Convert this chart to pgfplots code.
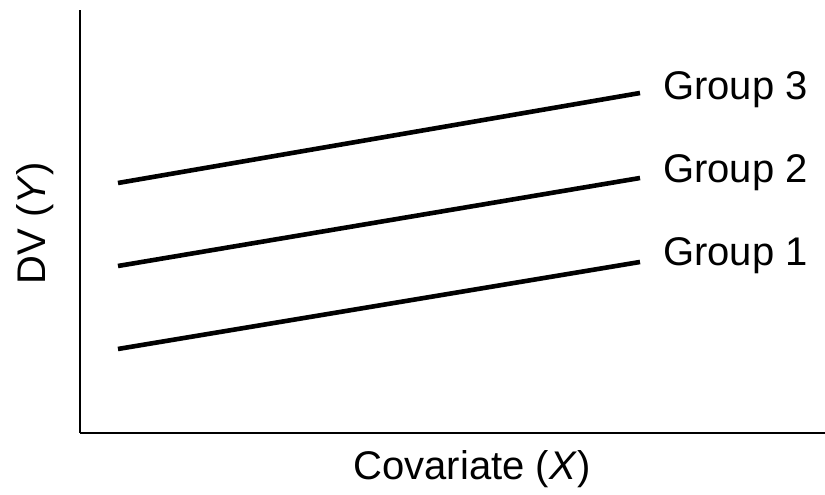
\documentclass[border=0pt]{standalone}
\usepackage{pgfplots}
\pgfplotsset{compat=1.18}
\usepackage{fontspec}
\setmainfont{Liberation Sans}
\tikzset{big/.style={font=\fontsize{40pt}{48pt}\selectfont, inner sep=0pt}}
\begin{document}
\begin{tikzpicture}
\begin{axis}[
  scale only axis, width=745pt, height=423pt,
  xmin=0, xmax=745, ymin=0, ymax=423,
  axis lines*=left, axis line style={line width=1.4pt, black},
  xtick=\empty, ytick=\empty,
  clip=false,
]
\addplot[black, line width=4.6pt] coordinates {(38,84) (560,171)};
\addplot[black, line width=4.6pt] coordinates {(38,167) (560,255)};
\addplot[black, line width=4.6pt] coordinates {(38,250) (560,340)};
\node[big, anchor=base west] at (axis cs:583,333) {Group 3};
\node[big, anchor=base west] at (axis cs:583,250) {Group 2};
\node[big, anchor=base west] at (axis cs:583,167) {Group 1};
\node[big, anchor=base] at (axis cs:392,-47) {Covariate (\textit{X\/})};
\node[big, anchor=base, rotate=90] at (axis cs:-34,210) {DV (\textit{Y\/})};
\coordinate (bl) at (axis cs:-80,-62);
\coordinate (tr) at (axis cs:745,433);
\end{axis}
\pgfresetboundingbox
\path[use as bounding box] (bl) rectangle (tr);
\end{tikzpicture}
\end{document}
